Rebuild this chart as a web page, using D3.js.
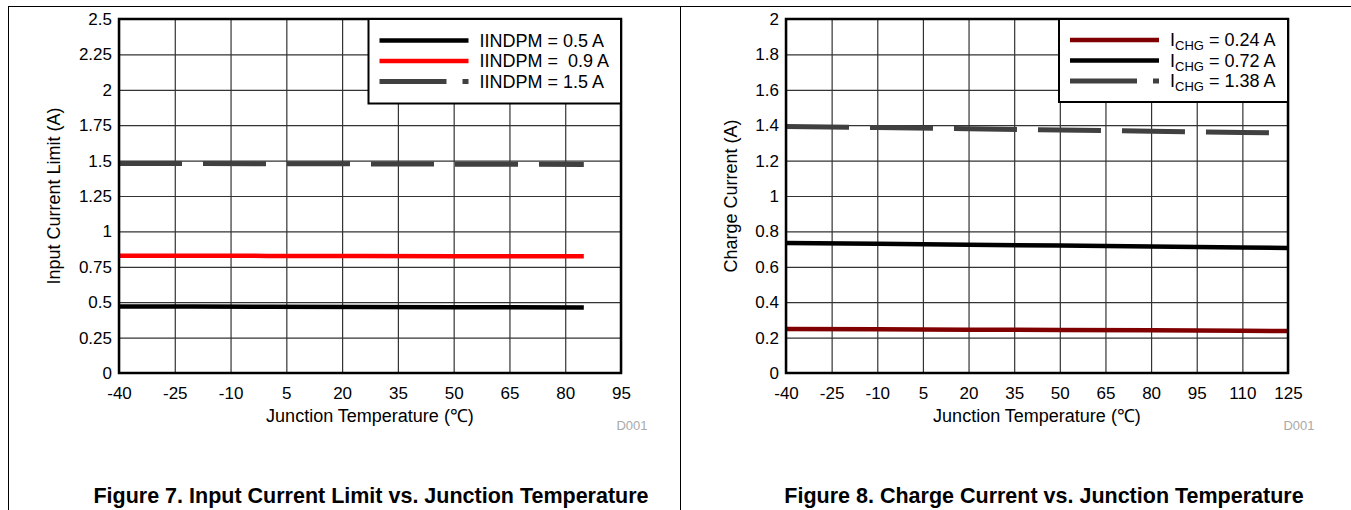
<!DOCTYPE html>
<html>
<head>
<meta charset="utf-8">
<script src="https://cdn.jsdelivr.net/npm/d3@7"></script>
<style>
    body { margin: 0; background: #fff; }
    text { font-family: "Liberation Sans", Arial, sans-serif; fill: #000; }
</style>
</head>
<body>
<div id="page"></div>
<script>
// Figure 7 data (junction temperature in degC, current in A)
const fig7Temp = [-40, -20, 0, 25, 50, 85];
const fig7I05 = [0.470, 0.469, 0.468, 0.466, 0.465, 0.463];
const fig7I09 = [0.828, 0.828, 0.827, 0.826, 0.825, 0.824];
const fig7I15 = [1.480, 1.479, 1.478, 1.477, 1.475, 1.473];
const fig7XTicks = [-40, -25, -10, 5, 20, 35, 50, 65, 80, 95];
const fig7YTicks = [0, 0.25, 0.5, 0.75, 1, 1.25, 1.5, 1.75, 2, 2.25, 2.5];
const fig7Labels = ["IINDPM = 0.5 A", "IINDPM =  0.9 A", "IINDPM = 1.5 A"];

// Figure 8 data
const fig8Temp = [-40, -10, 20, 50, 80, 110, 125];
const fig8I024 = [0.249, 0.247, 0.245, 0.243, 0.241, 0.238, 0.237];
const fig8I072 = [0.734, 0.730, 0.725, 0.720, 0.714, 0.709, 0.706];
const fig8I138 = [1.393, 1.387, 1.380, 1.373, 1.366, 1.359, 1.356];
const fig8XTicks = [-40, -25, -10, 5, 20, 35, 50, 65, 80, 95, 110, 125];
const fig8YTicks = [0, 0.2, 0.4, 0.6, 0.8, 1, 1.2, 1.4, 1.6, 1.8, 2];
const fig8Labels = [["I", "CHG", " = 0.24 A"], ["I", "CHG", " = 0.72 A"], ["I", "CHG", " = 1.38 A"]];

const svg = d3.select('#page').append('svg')
    .attr('width', 1351)
    .attr('height', 510);

// page frame lines
svg.append('line').attr('x1', 8).attr('x2', 1351).attr('y1', 6.5).attr('y2', 6.5)
    .attr('stroke', '#000').attr('stroke-width', 1);
svg.append('line').attr('x1', 8.5).attr('x2', 8.5).attr('y1', 6).attr('y2', 510)
    .attr('stroke', '#000').attr('stroke-width', 1);
svg.append('line').attr('x1', 680.5).attr('x2', 680.5).attr('y1', 6).attr('y2', 510)
    .attr('stroke', '#000').attr('stroke-width', 1);

function drawChart(cfg) {
    const g = svg.append('g');

    const x = d3.scaleLinear()
        .domain(d3.extent(cfg.xTicks))
        .range([cfg.left, cfg.right]);
    const y = d3.scaleLinear()
        .domain(d3.extent(cfg.yTicks))
        .range([cfg.bottom, cfg.top]);

    // grid + tick labels (plain hyphen for negatives)
    const xAxis = d3.axisBottom(x).tickValues(cfg.xTicks)
        .tickSize(-(cfg.bottom - cfg.top)).tickPadding(14).tickFormat(v => String(v));
    const yAxis = d3.axisLeft(y).tickValues(cfg.yTicks)
        .tickSize(-(cfg.right - cfg.left)).tickPadding(7).tickFormat(v => String(+v.toFixed(2)));

    const xg = g.append('g')
        .attr('transform', `translate(0,${cfg.bottom})`)
        .call(xAxis);
    const yg = g.append('g')
        .attr('transform', `translate(${cfg.left},0)`)
        .call(yAxis);

    [xg, yg].forEach(a => {
        a.select('.domain').remove();
        a.selectAll('.tick line').attr('stroke', '#333').attr('stroke-width', 1.2);
        a.selectAll('.tick text')
            .style('font-size', '17px')
            .style('font-family', '"Liberation Sans", Arial, sans-serif')
            .attr('fill', '#000');
    });

    // series lines
    const line = d3.line()
        .x(d => x(d[0]))
        .y(d => y(d[1]));

    cfg.series.forEach(s => {
        g.append('path')
            .datum(cfg.temp.map((t, i) => [t, s.values[i]]))
            .attr('d', line)
            .attr('fill', 'none')
            .attr('stroke', s.color)
            .attr('stroke-width', s.width)
            .attr('stroke-dasharray', s.dash || null);
    });

    // plot border
    g.append('rect')
        .attr('x', cfg.left).attr('y', cfg.top)
        .attr('width', cfg.right - cfg.left).attr('height', cfg.bottom - cfg.top)
        .attr('fill', 'none').attr('stroke', '#000').attr('stroke-width', 2.5);

    // legend
    const lg = g.append('g');
    lg.append('rect')
        .attr('x', cfg.legend.x).attr('y', cfg.top)
        .attr('width', cfg.right - cfg.legend.x).attr('height', cfg.legend.h)
        .attr('fill', '#fff').attr('stroke', '#000').attr('stroke-width', 2);

    cfg.series.forEach((s, i) => {
        const ry = cfg.legend.y0 + i * 20.5;
        lg.append('line')
            .attr('x1', cfg.legend.x + 11).attr('x2', cfg.legend.x + 100)
            .attr('y1', ry).attr('y2', ry)
            .attr('stroke', s.color).attr('stroke-width', s.width)
            .attr('stroke-dasharray', s.dash ? '67,16,6,100' : null);
        const t = lg.append('text')
            .attr('x', cfg.legend.x + 111).attr('y', ry + 6)
            .style('font-size', '18px')
            .style('white-space', 'pre');
        const lab = cfg.labels[i];
        if (Array.isArray(lab)) {
            t.append('tspan').text(lab[0]);
            t.append('tspan').attr('dy', 4).style('font-size', '13px').text(lab[1]);
            t.append('tspan').attr('dy', -4).text(lab[2]);
        } else {
            t.text(lab);
        }
    });

    // axis titles
    const cx = (cfg.left + cfg.right) / 2;
    g.append('text')
        .attr('x', cx).attr('y', 422)
        .attr('text-anchor', 'middle')
        .style('font-size', '18px')
        .text('Junction Temperature (\u2103)');

    g.append('text')
        .attr('transform', `translate(${cfg.yTitleX},${(cfg.top + cfg.bottom) / 2}) rotate(-90)`)
        .attr('text-anchor', 'middle')
        .style('font-size', '18px')
        .text(cfg.yTitle);

    g.append('text')
        .attr('x', cfg.right + 11).attr('y', 430)
        .attr('text-anchor', 'middle')
        .style('font-size', '13px')
        .style('fill', '#aaa')
        .text('D001');

    g.append('text')
        .attr('x', cfg.captionX).attr('y', 503)
        .attr('text-anchor', 'middle')
        .style('font-size', '21.5px')
        .style('font-weight', 'bold')
        .text(cfg.caption);
}

drawChart({
    left: 119, right: 621, top: 19, bottom: 373,
    temp: fig7Temp,
    xTicks: fig7XTicks, yTicks: fig7YTicks,
    labels: fig7Labels,
    series: [
        { values: fig7I05, color: '#000', width: 4.5 },
        { values: fig7I09, color: '#ff0000', width: 4.5 },
        { values: fig7I15, color: '#404040', width: 5, dash: '63,21' }
    ],
    legend: { x: 368.5, h: 84.5, y0: 40.5 },
    yTitle: 'Input Current Limit (A)', yTitleX: 60,
    caption: 'Figure 7. Input Current Limit vs. Junction Temperature', captionX: 371
});

drawChart({
    left: 786, right: 1288, top: 19, bottom: 373,
    temp: fig8Temp,
    xTicks: fig8XTicks, yTicks: fig8YTicks,
    labels: fig8Labels,
    series: [
        { values: fig8I024, color: '#800000', width: 4.5 },
        { values: fig8I072, color: '#000', width: 4.5 },
        { values: fig8I138, color: '#404040', width: 5, dash: '63,21' }
    ],
    legend: { x: 1059, h: 83, y0: 40 },
    yTitle: 'Charge Current (A)', yTitleX: 737,
    caption: 'Figure 8. Charge Current vs. Junction Temperature', captionX: 1044
});
</script>
</body>
</html>
